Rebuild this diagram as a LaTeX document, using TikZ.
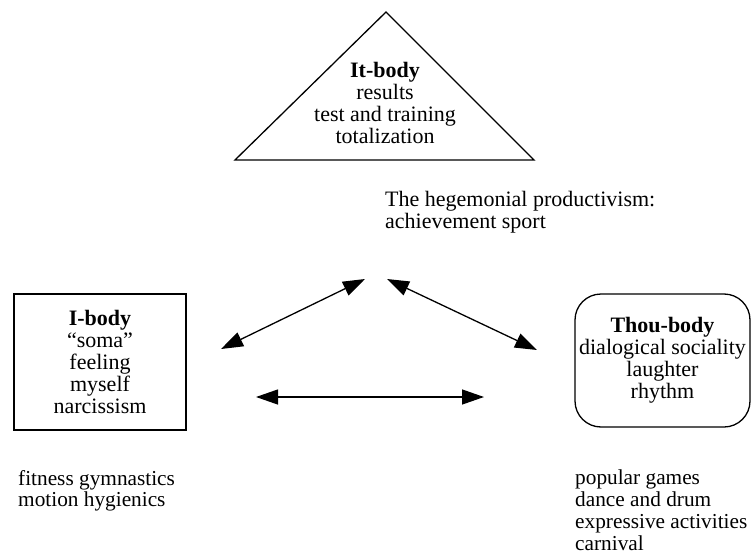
\documentclass[tikz,border=0pt]{standalone}
\usepackage{fontspec}
\setmainfont{Liberation Serif}
\usetikzlibrary{arrows.meta}
\tikzset{
  lbl/.style={inner sep=0pt, align=center, font=\fontsize{22}{22}\selectfont},
  lbll/.style={inner sep=0pt, align=left, anchor=north west, font=\fontsize{22}{22}\selectfont},
  lbls/.style={inner sep=0pt, align=left, anchor=north west, font=\fontsize{21.3}{21.7}\selectfont},
  dbl/.style={line width=1.3pt, {Triangle[length=22pt,width=15pt]}-{Triangle[length=22pt,width=15pt]}},
  shapeline/.style={line width=1.3pt}
}
\begin{document}
\begin{tikzpicture}[x=1pt,y=-1pt]
\useasboundingbox (0,0) rectangle (751,556);
% It-body triangle
\coordinate (apex) at (386,12);
\coordinate (bl) at (235,160);
\coordinate (br) at (534,160);
\draw[shapeline, line join=miter] (apex) -- (br) -- (bl) -- cycle;
\node[lbl] (itbody) at (385,103) {\textbf{It-body}\\results\\test and training\\totalization};
\node[lbll] (hegem) at (385,191) {The hegemonial productivism:\\achievement sport};
% I-body box
\node[lbl, draw, shapeline, minimum width=172pt, minimum height=136pt] (ibody) at (100,362) {\textbf{I-body}\\“soma”\\feeling\\myself\\narcissism};
% Thou-body rounded box
\node[lbl, draw, shapeline, rounded corners=26pt, minimum width=175pt, minimum height=133pt] (thou) at (662.5,360.5) {\textbf{Thou-body}\\dialogical sociality\\laughter\\rhythm};
% arrows
\coordinate (a1s) at (221,349);
\coordinate (a1e) at (365,279);
\coordinate (a2s) at (387,279);
\coordinate (a2e) at (537,350);
\coordinate (a3s) at (256,397);
\coordinate (a3e) at (484,397);
\draw[dbl] (a1s) -- (a1e);
\draw[dbl] (a2s) -- (a2e);
\draw[dbl] (a3s) -- (a3e);
% bottom texts
\node[lbls] (fit) at (18,470) {fitness gymnastics\\motion hygienics};
\node[lbls] (pop) at (575,470) {popular games\\dance and drum\\expressive activities\\carnival};
\end{tikzpicture}
\end{document}
